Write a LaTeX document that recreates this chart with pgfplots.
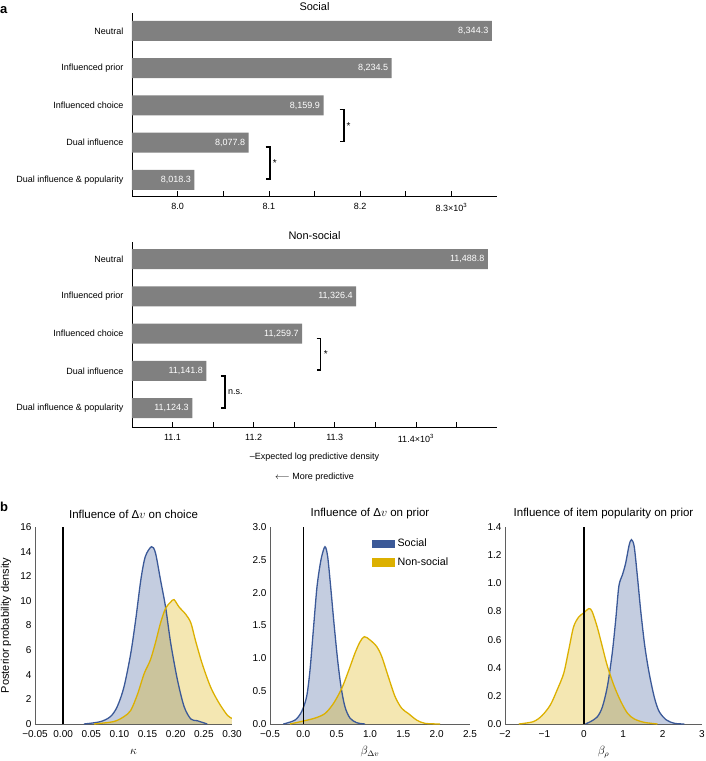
\documentclass[border=0pt]{standalone}
\usepackage{fontspec}
\setmainfont{Liberation Sans}
\usepackage{pgfplots}
\usepackage{pgfplotstable}
\pgfplotsset{compat=1.18}

\definecolor{bargray}{RGB}{128,128,128}
\definecolor{socline}{RGB}{59,89,152}
\definecolor{nonline}{RGB}{220,176,0}
\definecolor{axgray}{RGB}{95,95,95}

% panel a: -ELPD per model
\pgfplotstableread{
i v lab
4 8344.3 8,344.3
3 8234.5 8,234.5
2 8159.9 8,159.9
1 8077.8 8,077.8
0 8018.3 8,018.3
}\social
\pgfplotstableread{
i v lab
4 11488.8 11,488.8
3 11326.4 11,326.4
2 11259.7 11,259.7
1 11141.8 11,141.8
0 11124.3 11,124.3
}\nonsocial

% panel b: posterior densities
\pgfplotstableread{
x y
0.037 0
0.066 0.19
0.084 0.6
0.096 1.4
0.108 3.0
0.120 5.7
0.129 8.5
0.138 11.7
0.146 13.6
0.157 14.4
0.164 13.9
0.173 11.7
0.182 9.5
0.191 6.6
0.203 3.6
0.215 1.4
0.227 0.4
0.238 0.27
0.256 0
}\kapS
\pgfplotstableread{
x y
0.055 0
0.090 0.2
0.108 0.6
0.120 1.1
0.132 2.4
0.144 4.1
0.155 5.2
0.164 6.6
0.173 8.2
0.182 9.4
0.191 9.9
0.197 10.1
0.206 9.5
0.218 8.9
0.227 8.2
0.235 6.8
0.247 4.9
0.262 3.0
0.277 1.7
0.292 0.7
0.300 0.46
}\kapN
\pgfplotstableread{
x y
-0.30 0
-0.125 0.06
-0.025 0.19
0.05 0.42
0.10 0.82
0.15 1.43
0.20 2.04
0.235 2.32
0.275 2.55
0.325 2.70
0.365 2.55
0.41 2.09
0.46 1.53
0.515 0.97
0.565 0.57
0.625 0.26
0.70 0.09
0.80 0.02
0.925 0
}\bdvS
\pgfplotstableread{
x y
-0.2 0
-0.025 0.04
0.175 0.09
0.325 0.16
0.45 0.31
0.575 0.54
0.675 0.80
0.775 1.08
0.85 1.25
0.915 1.33
1.0 1.28
1.10 1.18
1.175 1.03
1.275 0.72
1.375 0.42
1.475 0.24
1.575 0.16
1.70 0.06
1.825 0.01
2.05 0
}\bdvN
\pgfplotstableread{
x y
0.04 0
0.17 0.017
0.34 0.05
0.47 0.12
0.60 0.27
0.72 0.50
0.81 0.74
0.89 0.98
0.98 1.06
1.06 1.14
1.15 1.27
1.21 1.31
1.28 1.26
1.36 1.05
1.45 0.79
1.55 0.55
1.66 0.36
1.79 0.19
1.91 0.09
2.09 0.03
2.30 0.005
2.55 0
}\brhoS
\pgfplotstableread{
x y
-1.65 0
-1.28 0.017
-1.06 0.06
-0.85 0.135
-0.68 0.24
-0.51 0.36
-0.38 0.53
-0.26 0.69
-0.13 0.76
0.0 0.79
0.13 0.82
0.21 0.80
0.34 0.69
0.47 0.55
0.60 0.41
0.77 0.27
0.94 0.16
1.11 0.076
1.28 0.036
1.53 0.012
1.87 0
}\brhoN

\newcommand{\fsz}[1]{\fontsize{#1}{#1}\selectfont}

\pgfplotsset{
  panela/.style={
    scale only axis, width=365pt, anchor=south west,
    xbar, bar width=20pt, enlargelimits=false, clip mode=individual,
    axis x line*=bottom, axis y line*=left,
    axis line style={black, line width=0.6pt},
    ytick={0,...,4},
    yticklabels={Dual influence \& popularity,Dual influence,Influenced choice,Influenced prior,Neutral},
    y tick label style={font=\fsz{9}},
    ytick style={draw=none},
    xtick align=inside, major tick length=5pt, minor tick length=5pt,
    xtick style={black, line width=0.6pt},
    minor tick style={black, line width=0.6pt},
    x tick label style={font=\fsz{9}, yshift=-4pt},
    scaled x ticks=false,
    title style={font=\fsz{11}, at={(axis description cs:0.5,1.033)}, anchor=center, yshift=-6pt},
    nodes near coords, point meta=explicit symbolic,
    every node near coord/.append style={anchor=east, text=white, font=\fsz{9}},
  },
  panelb/.style={
    scale only axis, height=197pt, anchor=south west,
    enlargelimits=false, clip mode=individual,
    axis x line*=bottom, axis y line*=left,
    axis line style={axgray, line width=0.8pt},
    major tick length=0pt,
    tick label style={font=\fsz{10}},
    x tick label style={yshift=-3pt},
    /pgf/number format/assume math mode=true,
    title style={font=\fsz{11.5}, at={(axis description cs:0.5,1.066)}, anchor=center, yshift=-6pt},
    xlabel style={font=\fsz{12}, at={(axis description cs:0.5,-0.142)}, anchor=center},
  },
}

\newcommand{\dens}[2]{%
  \addplot[draw=none, fill=#2, fill opacity=0.3, smooth, forget plot] table {#1} \closedcycle;
}
\newcommand{\densline}[2]{%
  \addplot[#2, line width=1.3pt, smooth, forget plot] table {#1};
}

\begin{document}
\begin{tikzpicture}
\path[use as bounding box] (0pt,0pt) rectangle (705pt,-761pt);

\node[anchor=north west, inner sep=0pt, font=\bfseries\fsz{13}] at (0pt,-6pt) {a};
\node[anchor=north west, inner sep=0pt, font=\bfseries\fsz{13}] at (0pt,-502pt) {b};

% ---- a: social
\begin{axis}[panela, at={(132pt,-196pt)}, height=183pt,
  xmin=7950, xmax=8350, ymin=-0.43, ymax=4.48,
  xtick={8000,8100,8200,8300},
  xticklabels={8.0,8.1,8.2,8.3×10\textsuperscript{3}},
  minor xtick={8050,8150,8250},
  title={Social}]
  \addplot[fill=bargray, draw=none] table[x=v, y=i, meta=lab] {\social};
  \draw[line width=1.8pt] (axis cs:8177.5,1.89) -- (axis cs:8182,1.89) -- (axis cs:8182,1.03) -- (axis cs:8177.5,1.03);
  \node[anchor=west, inner sep=1pt, font=\fsz{10}] at (axis cs:8184,1.46) {*};
  \draw[line width=1.8pt] (axis cs:8096.5,0.89) -- (axis cs:8101,0.89) -- (axis cs:8101,0.03) -- (axis cs:8096.5,0.03);
  \node[anchor=west, inner sep=1pt, font=\fsz{10}] at (axis cs:8103,0.46) {*};
\end{axis}

% ---- a: non-social
\begin{axis}[panela, at={(132pt,-427pt)}, height=185pt,
  xmin=11050, xmax=11500, ymin=-0.51, ymax=4.46,
  xtick={11100,11200,11300,11400},
  xticklabels={11.1,11.2,11.3,11.4×10\textsuperscript{3}},
  minor xtick={11150,11250,11350,11450},
  title={Non-social},
  xlabel={–Expected log predictive density},
  xlabel style={font=\fsz{9}, at={(axis description cs:0.5,-0.162)}, anchor=center}]
  \addplot[fill=bargray, draw=none] table[x=v, y=i, meta=lab] {\nonsocial};
  \draw[line width=1.8pt] (axis cs:11277.5,1.87) -- (axis cs:11282.5,1.87) -- (axis cs:11282.5,1.03) -- (axis cs:11277.5,1.03);
  \node[anchor=west, inner sep=1pt, font=\fsz{10}] at (axis cs:11285,1.45) {*};
  \draw[line width=1.8pt] (axis cs:11159.5,0.87) -- (axis cs:11164.5,0.87) -- (axis cs:11164.5,0.01) -- (axis cs:11159.5,0.01);
  \node[anchor=west, inner sep=1pt, font=\fsz{9}] at (axis cs:11167,0.44) {n.s.};
  \node[font=\fsz{9}] at (axis description cs:0.5,-0.27) {$\longleftarrow$ More predictive};
\end{axis}

% ---- b1
\begin{axis}[panelb, at={(35pt,-724pt)}, width=197pt,
  xmin=-0.05, xmax=0.30, ymin=0, ymax=16,
  xtick={-0.05,0,0.05,0.1,0.15,0.2,0.25,0.3},
  xticklabels={−0.05,0.00,0.05,0.10,0.15,0.20,0.25,0.30},
  ytick={0,2,...,16},
  title={Influence of Δ$v$ on choice},
  xlabel={$\kappa$},
  ylabel={Posterior probability density},
  ylabel style={font=\fsz{11}, at={(axis description cs:-0.147,0.5)}, anchor=center}]
  \dens{\kapS}{socline}
  \dens{\kapN}{nonline}
  \densline{\kapS}{socline}
  \densline{\kapN}{nonline}
  \addplot[black, line width=1.4pt, forget plot] coordinates {(0,0) (0,16)};
\end{axis}

% ---- b2
\begin{axis}[panelb, at={(270pt,-724pt)}, width=200pt,
  xmin=-0.5, xmax=2.5, ymin=0, ymax=3,
  xtick={-0.5,0,0.5,1,1.5,2,2.5},
  xticklabels={−0.5,0.0,0.5,1.0,1.5,2.0,2.5},
  ytick={0,0.5,...,3},
  yticklabel style={/pgf/number format/.cd, fixed, fixed zerofill, precision=1},
  title={Influence of Δ$v$ on prior},
  xlabel={$\beta_{\Delta v}$},
  legend style={draw=none, fill=none, at={(0.51,0.95)}, anchor=north west,
    font=\fsz{10.7}, row sep=5pt, inner sep=0pt,
    nodes={inner xsep=3pt}},
  legend cell align=left]
  \dens{\bdvS}{socline}
  \dens{\bdvN}{nonline}
  \densline{\bdvS}{socline}
  \densline{\bdvN}{nonline}
  \addplot[black, line width=1.4pt, forget plot] coordinates {(0,0) (0,3)};
  \addlegendimage{socline, legend image code/.code={\fill[socline] (0pt,-3.8pt) rectangle (22pt,3.8pt);}}
  \addlegendentry{Social}
  \addlegendimage{nonline, legend image code/.code={\fill[nonline] (0pt,-3.8pt) rectangle (22pt,3.8pt);}}
  \addlegendentry{Non-social}
\end{axis}

% ---- b3
\begin{axis}[panelb, at={(505pt,-724pt)}, width=197pt,
  xmin=-2, xmax=3, ymin=0, ymax=1.4,
  xtick={-2,-1,0,1,2,3},
  xticklabels={−2,−1,0,1,2,3},
  ytick={0,0.2,...,1.4},
  yticklabel style={/pgf/number format/.cd, fixed, fixed zerofill, precision=1},
  title={Influence of item popularity on prior},
  xlabel={$\beta_\rho$}]
  \dens{\brhoS}{socline}
  \dens{\brhoN}{nonline}
  \densline{\brhoS}{socline}
  \densline{\brhoN}{nonline}
  \addplot[black, line width=1.4pt, forget plot] coordinates {(0,0) (0,1.4)};
\end{axis}
\end{tikzpicture}
\end{document}
